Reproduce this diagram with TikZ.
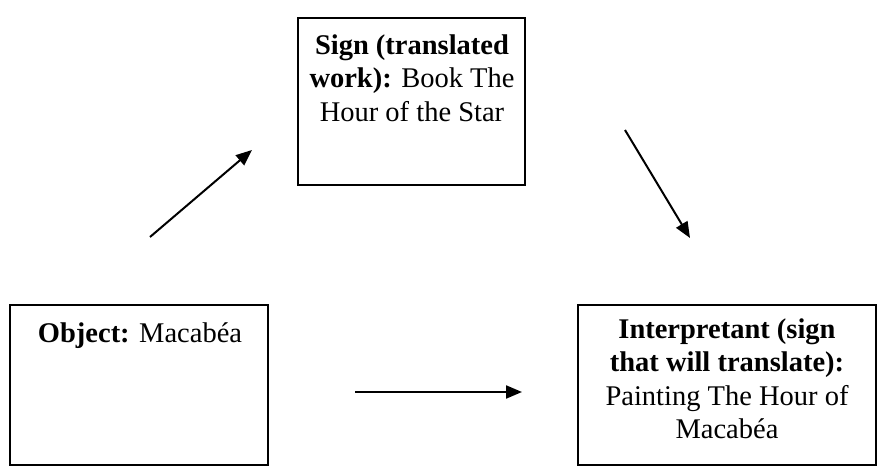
\documentclass[tikz,border=0pt]{standalone}
\usepackage{fontspec}
\setmainfont{Liberation Serif}
\usetikzlibrary{arrows.meta}
\tikzset{
  box/.style={draw=black, line width=1.8pt, inner sep=0pt},
  txt/.style={align=center, inner sep=0pt, font=\fontsize{28.5}{33.5}\selectfont},
  conn/.style={line width=2pt, -{Triangle[length=16pt,width=13pt]}}
}
\begin{document}
\begin{tikzpicture}[x=1pt,y=-1pt]
\useasboundingbox (0,0) rectangle (889,470);
% boxes
\node[box, minimum width=227pt, minimum height=167pt] (sign) at (411.5,101.5) {};
\node[box, minimum width=258pt, minimum height=160pt] (object) at (139,385) {};
\node[box, minimum width=298pt, minimum height=160pt] (interp) at (727,385) {};
% texts
\node[txt] (signtxt) at (412,78) {\textbf{Sign (translated}\\\textbf{work): }Book The\\Hour of the Star};
\node[txt] (objtxt) at (140,336) {\textbf{Object: }Macabéa};
\node[txt] (inttxt) at (727,379) {\textbf{Interpretant (sign}\\\textbf{that will translate):}\\Painting The Hour of\\Macabéa};
% connector endpoints
\coordinate (a1s) at (150,237);
\coordinate (a1e) at (252,150);
\coordinate (a2s) at (625,130);
\coordinate (a2e) at (690,238);
\coordinate (a3s) at (355,392);
\coordinate (a3e) at (522,392);
\draw[conn] (a1s) -- (a1e);
\draw[conn] (a2s) -- (a2e);
\draw[conn] (a3s) -- (a3e);
\end{tikzpicture}
\end{document}
